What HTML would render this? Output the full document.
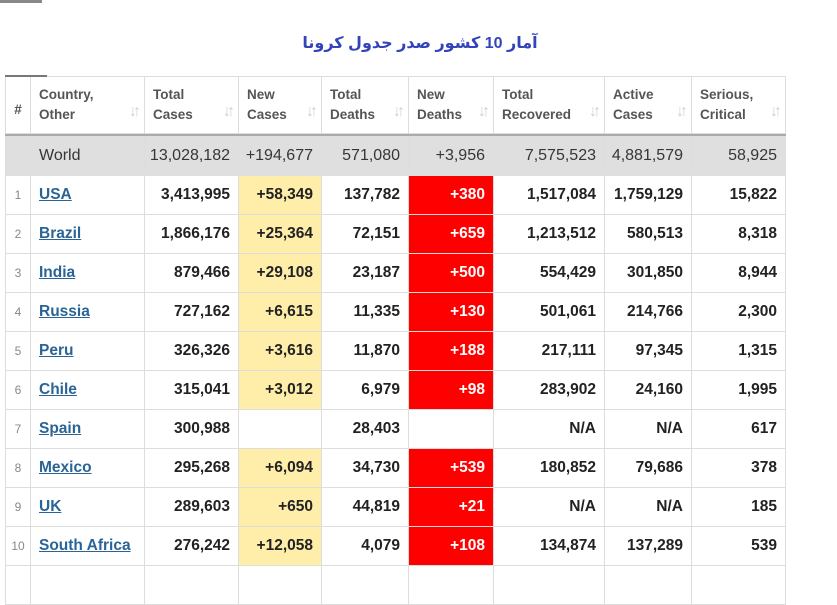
<!DOCTYPE html>
<html><head><meta charset="utf-8"><style>
body{margin:0;width:837px;height:575px;background:#fff;overflow:hidden;position:relative;font-family:"Liberation Sans",Arial,sans-serif}
.c{position:absolute;box-sizing:border-box;border-right:1px solid #ddd;border-bottom:1px solid #ddd;font-size:15px;color:#222;display:flex;align-items:center;justify-content:flex-end;padding-right:8px}
.h{color:#555;font-weight:bold;font-size:13.5px;line-height:20px;align-items:center;justify-content:flex-start;padding-left:8px}
.ar{position:absolute;right:7px;bottom:11px;color:#d0d0d0;font-size:16px;font-weight:bold;letter-spacing:-4px}
.w{background:#dfdfdf;color:#363636;font-weight:normal;font-size:16px}
.b{font-weight:bold;font-size:15.5px}
.y{background:#ffeeaa}
.r{background:#f00;color:#fff}
.n{color:#888;font-size:12px;font-weight:normal;justify-content:center;padding:0}
.l{justify-content:flex-start;padding-left:8px}
a{color:#2a6496;text-decoration:underline}
</style></head><body>
<div style="position:absolute;left:0;top:0;width:42px;height:3px;background:#888"></div>
<div style="position:absolute;left:0;top:33px;width:837px;text-align:center;padding-left:3px;box-sizing:border-box;color:#3344bb;font-weight:bold;font-size:16px;font-family:'Liberation Sans','DejaVu Sans',sans-serif" dir="rtl">آمار 10 کشور صدر جدول کرونا</div>
<div style="position:absolute;left:5px;top:76px;width:781px;height:1px;background:#ddd"></div>
<div style="position:absolute;left:5px;top:75px;width:42px;height:2px;background:#777"></div>
<div style="position:absolute;left:5px;top:133px;width:781px;height:3px;background:#aaa"></div>
<div id="t"></div>
<script>
var X=[5,31,145,239,322,409,494,605,692,786];
var H=[["#"],["Country,<br>Other"],["Total<br>Cases"],["New<br>Cases"],["Total<br>Deaths"],["New<br>Deaths"],["Total<br>Recovered"],["Active<br>Cases"],["Serious,<br>Critical"]];
var D=[["","World","13,028,182","+194,677","571,080","+3,956","7,575,523","4,881,579","58,925"],
["1","USA","3,413,995","+58,349","137,782","+380","1,517,084","1,759,129","15,822"],
["2","Brazil","1,866,176","+25,364","72,151","+659","1,213,512","580,513","8,318"],
["3","India","879,466","+29,108","23,187","+500","554,429","301,850","8,944"],
["4","Russia","727,162","+6,615","11,335","+130","501,061","214,766","2,300"],
["5","Peru","326,326","+3,616","11,870","+188","217,111","97,345","1,315"],
["6","Chile","315,041","+3,012","6,979","+98","283,902","24,160","1,995"],
["7","Spain","300,988","","28,403","","N/A","N/A","617"],
["8","Mexico","295,268","+6,094","34,730","+539","180,852","79,686","378"],
["9","UK","289,603","+650","44,819","+21","N/A","N/A","185"],
["10","South Africa","276,242","+12,058","4,079","+108","134,874","137,289","539"],
["","","","","","","","",""]];
var s="";
function cell(i,y,h,cls,txt,st){s+='<div class="c '+cls+'" style="left:'+X[i]+'px;top:'+y+'px;width:'+(X[i+1]-X[i])+'px;height:'+h+'px;'+(i==0?'border-left:1px solid #ddd;':'')+(st||'')+'">'+txt+'</div>';}
for(var i=0;i<9;i++){cell(i,77,57,'h',H[i][0]+(i>0?'<span class="ar">↓↑</span>':''),i==0?'justify-content:center;padding:0;padding-top:10px':'');}
for(var r=0;r<D.length;r++){var y=r==0?136:176+(r-1)*39;
for(var i=0;i<9;i++){var v=D[r][i],cls;
if(r==0){cls='w'+(i==1?' l':'');}
else{cls='b';if(i==0)cls='n';if(i==1){cls='b l';if(v)v='<a>'+v+'</a>';}
if(i==3&&v)cls+=' y';if(i==5&&v)cls+=' r';}
cell(i,y,r==0?40:39,cls,v,r==1?'border-top:0':'');}}
document.getElementById('t').innerHTML=s;
</script>
</body></html>
